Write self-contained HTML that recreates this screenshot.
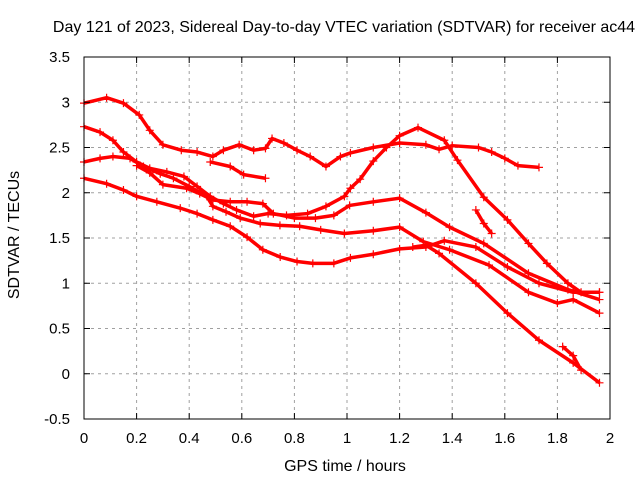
<!DOCTYPE html>
<html><head><meta charset="utf-8"><style>
body{margin:0;background:#fff;}
svg{display:block;font-family:"Liberation Sans",sans-serif;}
</style></head><body>
<svg id="chart" width="640" height="480" xmlns="http://www.w3.org/2000/svg">
<rect width="640" height="480" fill="#fff"/>
<text x="344" y="32" font-size="16" text-anchor="middle">Day 121 of 2023, Sidereal Day-to-day VTEC variation (SDTVAR) for receiver ac44</text>
<text transform="translate(19,235) rotate(-90)" font-size="16" text-anchor="middle">SDTVAR / TECUs</text>
<text x="345" y="471" font-size="16" text-anchor="middle">GPS time / hours</text>
<g id="grid"></g><g id="series"></g><g id="axes"></g>
</svg>
<script>
const xTicks=[0,0.2,0.4,0.6,0.8,1,1.2,1.4,1.6,1.8,2];
const yTicks=[-0.5,0,0.5,1,1.5,2,2.5,3,3.5];
const s1x=[0,0.086,0.15,0.21,0.25,0.30,0.37,0.43,0.49,0.53,0.59,0.645,0.69,0.715,0.76,0.81,0.86,0.92,0.975,1.013,1.1,1.2,1.3,1.35,1.4,1.5,1.55,1.6,1.65,1.73];
const s1y=[2.99,3.05,2.99,2.86,2.69,2.53,2.47,2.45,2.40,2.47,2.53,2.47,2.49,2.60,2.55,2.47,2.40,2.29,2.40,2.44,2.5,2.55,2.53,2.48,2.52,2.5,2.45,2.38,2.3,2.28];
const s2x=[0.48,0.556,0.607,0.69];
const s2y=[2.34,2.29,2.20,2.16];
const s3x=[0,0.061,0.11,0.15,0.20,0.25,0.315,0.38,0.43,0.48,0.53,0.58,0.645,0.70,0.77,0.85,0.92,0.99,1.013,1.05,1.1,1.15,1.2,1.27,1.37,1.42,1.52,1.61,1.69,1.76,1.84,1.89,1.96];
const s3y=[2.73,2.67,2.58,2.45,2.34,2.27,2.23,2.18,2.07,1.96,1.88,1.81,1.74,1.77,1.75,1.77,1.85,1.96,2.05,2.15,2.35,2.5,2.63,2.72,2.58,2.36,1.95,1.7,1.44,1.22,1.0,0.9,0.9];
const s4x=[0,0.061,0.11,0.175,0.226,0.29,0.34,0.40,0.467,0.49,0.54,0.594,0.67,0.745,0.82,0.90,0.99,1.1,1.2,1.29,1.39,1.54,1.69,1.8,1.86,1.96];
const s4y=[2.34,2.38,2.40,2.38,2.29,2.21,2.16,2.07,1.96,1.85,1.79,1.72,1.66,1.64,1.63,1.59,1.55,1.58,1.62,1.46,1.37,1.2,0.9,0.78,0.82,0.67];
const s5x=[0.2,0.25,0.30,0.39,0.44,0.49,0.556,0.62,0.68,0.72,0.80,0.88,0.95,1.01,1.1,1.2,1.3,1.39,1.52,1.69,1.84,1.96];
const s5y=[2.3,2.22,2.09,2.05,1.99,1.92,1.90,1.90,1.88,1.77,1.72,1.72,1.75,1.86,1.9,1.94,1.78,1.62,1.44,1.11,0.93,0.82];
const s6x=[0,0.086,0.15,0.20,0.277,0.366,0.43,0.49,0.556,0.62,0.68,0.746,0.81,0.87,0.95,1.013,1.1,1.2,1.3,1.37,1.49,1.61,1.73,1.86,1.96];
const s6y=[2.16,2.10,2.03,1.96,1.90,1.83,1.77,1.70,1.63,1.51,1.37,1.29,1.24,1.22,1.22,1.28,1.32,1.38,1.4,1.47,1.4,1.18,1.0,0.9,0.9];
const s7x=[1.25,1.3,1.35,1.49,1.61,1.73,1.86,1.96];
const s7y=[1.4,1.42,1.33,1.0,0.67,0.37,0.12,-0.1];
const s8x=[1.82,1.86,1.89];
const s8y=[0.3,0.2,0.04];
const s9x=[1.49,1.52,1.55];
const s9y=[1.81,1.66,1.55];
const seriesX=[s1x,s2x,s3x,s4x,s5x,s6x,s7x,s8x,s9x];
const seriesY=[s1y,s2y,s3y,s4y,s5y,s6y,s7y,s8y,s9y];

const L=84,R=610,T=57,B=419;
const sx=v=>L+(v-0)/(2-0)*(R-L);
const sy=v=>B-(v+0.5)/(3.5+0.5)*(B-T);
const NS="http://www.w3.org/2000/svg";
function mk(tag,attrs,parent){const e=document.createElementNS(NS,tag);for(const k in attrs)e.setAttribute(k,attrs[k]);parent.appendChild(e);return e;}
const grid=document.getElementById('grid'),axes=document.getElementById('axes'),ser=document.getElementById('series');
xTicks.forEach(t=>{
  const x=sx(t);
  if(t>0&&t<2){const g=mk('line',{x1:x,x2:x,y1:T,y2:B,stroke:'#a0a0a0','stroke-dasharray':'3,4','stroke-width':1},grid);
  
  }
  mk('line',{x1:x,x2:x,y1:B,y2:B-6,stroke:'#000'},axes);
  mk('line',{x1:x,x2:x,y1:T,y2:T+6,stroke:'#000'},axes);
  const tx=mk('text',{x:x,y:443,'font-size':15,'text-anchor':'middle'},axes);
  tx.textContent=String(t);
  
  
});
yTicks.forEach(t=>{
  const y=sy(t);
  if(t>-0.5&&t<3.5){const g=mk('line',{x1:L,x2:R,y1:y,y2:y,stroke:'#a0a0a0','stroke-dasharray':'3,4','stroke-width':1},grid);
  
  }
  mk('line',{x1:L,x2:L+6,y1:y,y2:y,stroke:'#000'},axes);
  mk('line',{x1:R,x2:R-6,y1:y,y2:y,stroke:'#000'},axes);
  const tx=mk('text',{x:70,y:y+5,'font-size':15,'text-anchor':'end'},axes);
  tx.textContent=String(t);
  
  
});
const border=mk('rect',{x:L,y:T,width:R-L,height:B-T,fill:'none',stroke:'#000','stroke-width':1},axes);


seriesX.forEach((xs,i)=>{
  const ys=seriesY[i];
  const g=mk('g',{},ser);
  
  
  const pts=xs.map((x,j)=>sx(x)+','+sy(ys[j])).join(' ');
  mk('polyline',{points:pts,fill:'none',stroke:'#ff0000','stroke-width':3.5,'stroke-linejoin':'round'},g);
  xs.forEach((x,j)=>{
    const cx=sx(x),cy=sy(ys[j]);
    const p=mk('path',{d:`M${cx-4},${cy}H${cx+4}M${cx},${cy-4}V${cy+4}`,stroke:'#ff0000','stroke-width':1.2},g);
    
    
  });
});
</script>
</body></html>
